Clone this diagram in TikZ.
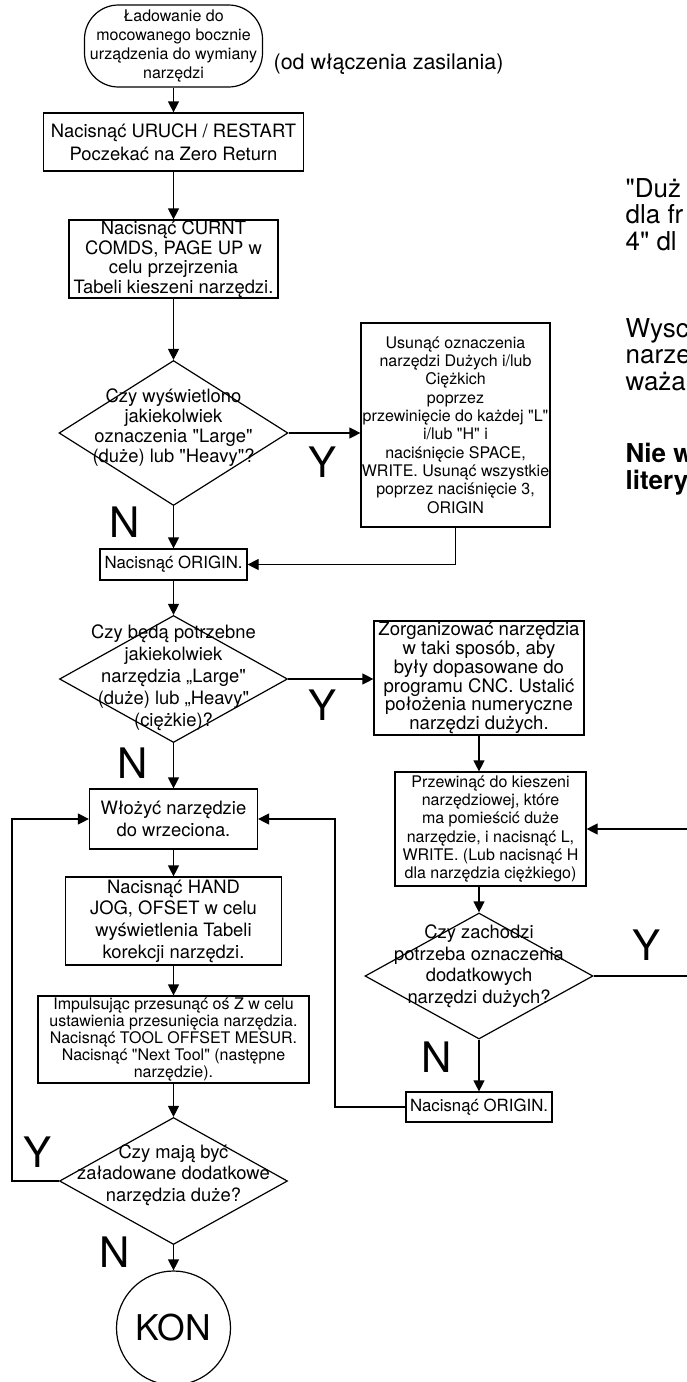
\documentclass[tikz,border=0pt]{standalone}
\usepackage{fontspec}
\newfontfamily\gyreheros{TeX Gyre Heros}
\usetikzlibrary{arrows.meta, calc, shapes.geometric}
\newcommand{\ffont}[2]{\gyreheros\fontsize{#1}{#2}\selectfont}

\begin{document}
\begin{tikzpicture}[x=1pt, y=-1pt, >={Triangle[length=11pt, width=11pt]}, line width=1.2pt,
  every node/.style={inner sep=0pt, align=center},
  box/.style={draw, rectangle},
  dec/.style={draw, diamond},
  yn/.style={font=\ffont{42}{42}},
  side/.style={anchor=west, align=left, font=\ffont{26}{26.5}}]
  \useasboundingbox (0,0) rectangle (687,1382);
  \clip (0,0) rectangle (687,1382);

  % left column
  \node[box, rounded corners=34pt, minimum width=178pt, minimum height=82pt, font=\ffont{16}{19}] (start) at (173.5,46) {Ładowanie do\\mocowanego bocznie\\urządzenia do wymiany\\narzędzi};
  \node[anchor=west, font=\ffont{21.5}{24}] (note) at (273,64) {(od włączenia zasilania)};
  \node[box, minimum width=260pt, minimum height=58pt, font=\ffont{18.4}{23}] (uruch) at (173.5,142) {Nacisnąć URUCH / RESTART\\Poczekać na Zero Return};
  \node[box, minimum width=209pt, minimum height=78pt, font=\ffont{18.4}{19.5}] (curnt) at (173.5,259) {Nacisnąć CURNT\\COMDS, PAGE UP w\\celu przejrzenia\\Tabeli kieszeni narzędzi.};
  \node[dec, minimum width=229pt, minimum height=145pt] (d1) at (173.5,433) {};
  \node[font=\ffont{18.4}{20}] (d1txt) at (173.5,428) {Czy wyświetlono\\jakiekolwiek\\oznaczenia "Large"\\(duże) lub "Heavy"?};
  \node[box, minimum width=147pt, minimum height=31pt, font=\ffont{16.8}{19}] (orig1) at (173.5,564.5) {Nacisnąć ORIGIN.};
  \node[dec, minimum width=228pt, minimum height=127pt] (d2) at (173.5,679) {};
  \node[font=\ffont{18.4}{22}] (d2txt) at (173.5,678) {Czy będą potrzebne\\jakiekolwiek\\narzędzia „Large"\\(duże) lub „Heavy"\\(ciężkie)?};
  \node[box, minimum width=168pt, minimum height=60pt, font=\ffont{18.4}{22}] (wloz) at (173.5,819) {Włożyć narzędzie\\do wrzeciona.};
  \node[box, minimum width=216pt, minimum height=88pt, font=\ffont{18.4}{21.7}] (hand) at (173.5,921) {Nacisnąć HAND\\JOG, OFSET w celu\\wyświetlenia Tabeli\\korekcji narzędzi.};
  \node[box, minimum width=271pt, minimum height=87pt, font=\ffont{16}{16.8}] (imp) at (173.5,1039.5) {Impulsując przesunąć oś Z w celu\\ustawienia przesunięcia narzędzia.\\Nacisnąć TOOL OFFSET MESUR.\\Nacisnąć "Next Tool" (następne\\narzędzie).};
  \node[dec, minimum width=228pt, minimum height=127pt] (d4) at (173.5,1181) {};
  \node[font=\ffont{18.4}{21.5}] (d4txt) at (173.5,1175) {Czy mają być\\załadowane dodatkowe\\narzędzia duże?};
  \node[draw, circle, minimum size=114pt, font=\ffont{35.5}{36}] (kon) at (173.5,1328) {KON};

  % right column
  \node[box, minimum width=189pt, minimum height=204pt, font=\ffont{16}{18.3}] (usun) at (455.5,425) {Usunąć oznaczenia\\narzędzi Dużych i/lub\\Ciężkich\\poprzez\\przewinięcie do każdej "L"\\i/lub "H" i\\naciśnięcie SPACE,\\WRITE. Usunąć wszystkie\\poprzez naciśnięcie 3,\\ORIGIN};
  \node[box, minimum width=210pt, minimum height=114pt, font=\ffont{18.6}{18.8}] (zorg) at (479,678) {Zorganizować narzędzia\\w taki sposób, aby\\były dopasowane do\\programu CNC. Ustalić\\położenia numeryczne\\narzędzi dużych.};
  \node[box, minimum width=191pt, minimum height=114pt, font=\ffont{16}{18.2}] (przew) at (490.5,829) {Przewinąć do kieszeni\\narzędziowej, które\\ma pomieścić duże\\narzędzie, i nacisnąć L,\\WRITE. (Lub nacisnąć H\\dla narzędzia ciężkiego)};
  \node[dec, minimum width=228pt, minimum height=126pt] (d3) at (479,976) {};
  \node[font=\ffont{18.4}{21.5}] (d3txt) at (479,966) {Czy zachodzi\\potrzeba oznaczenia\\dodatkowych\\narzędzi dużych?};
  \node[box, minimum width=146pt, minimum height=30pt, font=\ffont{16.8}{19}] (orig2) at (479,1107) {Nacisnąć ORIGIN.};

  % notes cut by the right edge
  \node[side] (side1) at (625,214.5) {"Duż\\dla fr\\4" dl};
  \node[side] (side2) at (625,354.5) {Wysc\\narze\\waża};
  \node[side, font=\ffont{26}{26.5}\bfseries] (side3) at (625,469) {Nie w\\litery};

  % Y / N labels
  \node[yn] (y1) at (323,462) {Y};
  \node[yn] (n1) at (125,522) {N};
  \node[yn] (y2) at (323,705) {Y};
  \node[yn] (n2) at (133,763) {N};
  \node[yn] (y3) at (647,945) {Y};
  \node[yn] (n3) at (437,1057) {N};
  \node[yn] (y4) at (38,1152) {Y};
  \node[yn] (n4) at (115,1252) {N};

  % connectors
  \draw[->] (start) -- (uruch);
  \draw[->] (uruch) -- (curnt);
  \draw[->] (curnt) -- (d1);
  \draw[->] (d1) -- (orig1);
  \draw[->] (orig1) -- (d2);
  \draw[->] (d2) -- (wloz);
  \draw[->] (wloz) -- (hand);
  \draw[->] (hand) -- (imp);
  \draw[->] (imp) -- (d4);
  \draw[->] (d4) -- (kon);
  \draw[->] (d1.east) -- (d1.east -| usun.west);
  \draw[->] (usun.south) |- (orig1.east);
  \draw[->] (d2.east) -- (d2.east -| zorg.west);
  \draw[->] (zorg) -- (zorg |- przew.north);
  \draw[->] (d3 |- przew.south) -- (d3);
  \draw[->] (d3) -- (orig2);
  \coordinate (loopR) at (705,976);
  \draw[->] (d3.east) -- (loopR) |- (przew.east);
  \coordinate (retR) at (335,1107);
  \draw[->] (orig2.west) -- (retR) |- (wloz.east);
  \coordinate (retL) at (12,1181);
  \draw[->] (d4.west) -- (retL) |- (wloz.west);
\end{tikzpicture}
\end{document}
